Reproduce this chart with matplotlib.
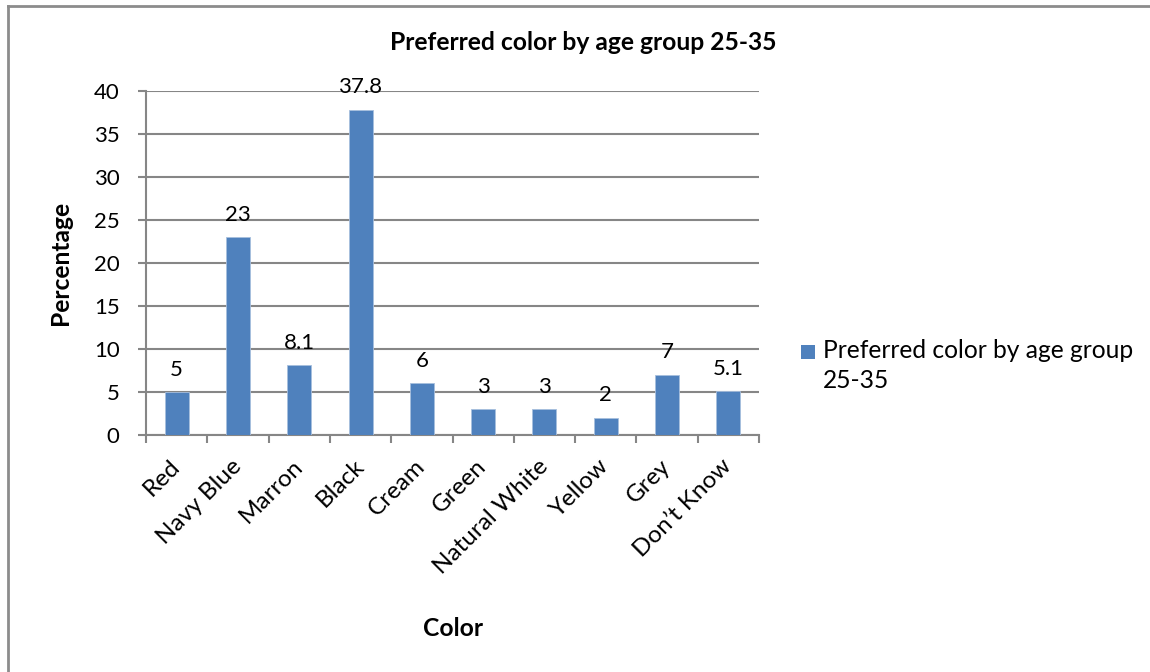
import matplotlib.pyplot as plt
from matplotlib.lines import Line2D
from matplotlib.patches import Rectangle
import numpy as np

plt.rcParams['font.family'] = ['Lato', 'DejaVu Sans']

# survey data
colors = ['Red', 'Navy Blue', 'Marron', 'Black', 'Cream', 'Green',
          'Natural White', 'Yellow', 'Grey', 'Don\u2019t Know']
percent = [5, 23, 8.1, 37.8, 6, 3, 3, 2, 7, 5.1]
series_name = 'Preferred color by age group 25-35'

bar_color = '#4F81BD'
line_color = '#868686'
W, H = 1150, 672

fig = plt.figure(figsize=(W / 100, H / 100), dpi=100)
ax = fig.add_axes([146 / W, 1 - 435 / H, 613 / W, 344 / H])

x = np.arange(len(colors))
bars = ax.bar(x, percent, width=0.39, color=bar_color, edgecolor='#A7BFDE',
              linewidth=0.6, zorder=3)
ax.bar_label(bars, labels=[f'{v:g}' for v in percent], padding=9, fontsize=16)

ax.set_xlim(-0.5, len(colors) - 0.5)
ax.set_ylim(0, 40)
ax.set_yticks(np.arange(0, 41, 5))
ax.yaxis.grid(True, color=line_color, linewidth=1.5, zorder=0)
ax.set_axisbelow(True)

# category labels at the centres, tick marks on the boundaries
ax.set_xticks(x)
ax.set_xticklabels(colors, rotation=45, ha='right', va='center',
                   rotation_mode='anchor', fontsize=17.5)
ax.set_xticks(np.arange(-0.5, len(colors)), minor=True)
ax.tick_params(axis='x', which='major', length=0, pad=20)
ax.tick_params(axis='x', which='minor', length=6, width=1.5, color=line_color)
ax.tick_params(axis='y', length=6, width=1.5, color=line_color, labelsize=16, pad=13)

for side in ['top', 'right']:
    ax.spines[side].set_visible(False)
for side in ['left', 'bottom']:
    ax.spines[side].set_color(line_color)
    ax.spines[side].set_linewidth(1.5)

ax.set_ylabel('Percentage', fontsize=17.7, fontweight='bold')
ax.yaxis.set_label_coords(-0.121, 0.5)
ax.set_xlabel('Color', fontsize=17.7, fontweight='bold')
ax.xaxis.set_label_coords(0.5, -0.53)

fig.text(583 / W, 1 - 43 / H, series_name, ha='center', va='center',
         fontsize=17.7, fontweight='bold')

# legend: swatch beside the first line of the series name
fig.add_artist(Rectangle((801 / W, 1 - 359 / H), 14 / W, 14 / H,
                         transform=fig.transFigure, facecolor=bar_color,
                         edgecolor='none'))
fig.text(823 / W, 1 - 339 / H, 'Preferred color by age group\n25-35',
         ha='left', va='top', fontsize=17.7, linespacing=1.35)

# chart frame
fig.add_artist(Line2D([8 / W, 1], [1 - 6 / H, 1 - 6 / H],
                      transform=fig.transFigure, color='#8C8C8C', linewidth=2))
fig.add_artist(Line2D([8 / W, 8 / W], [0, 1 - 6 / H],
                      transform=fig.transFigure, color='#8C8C8C', linewidth=2))

fig.savefig('out.png', dpi=100)
